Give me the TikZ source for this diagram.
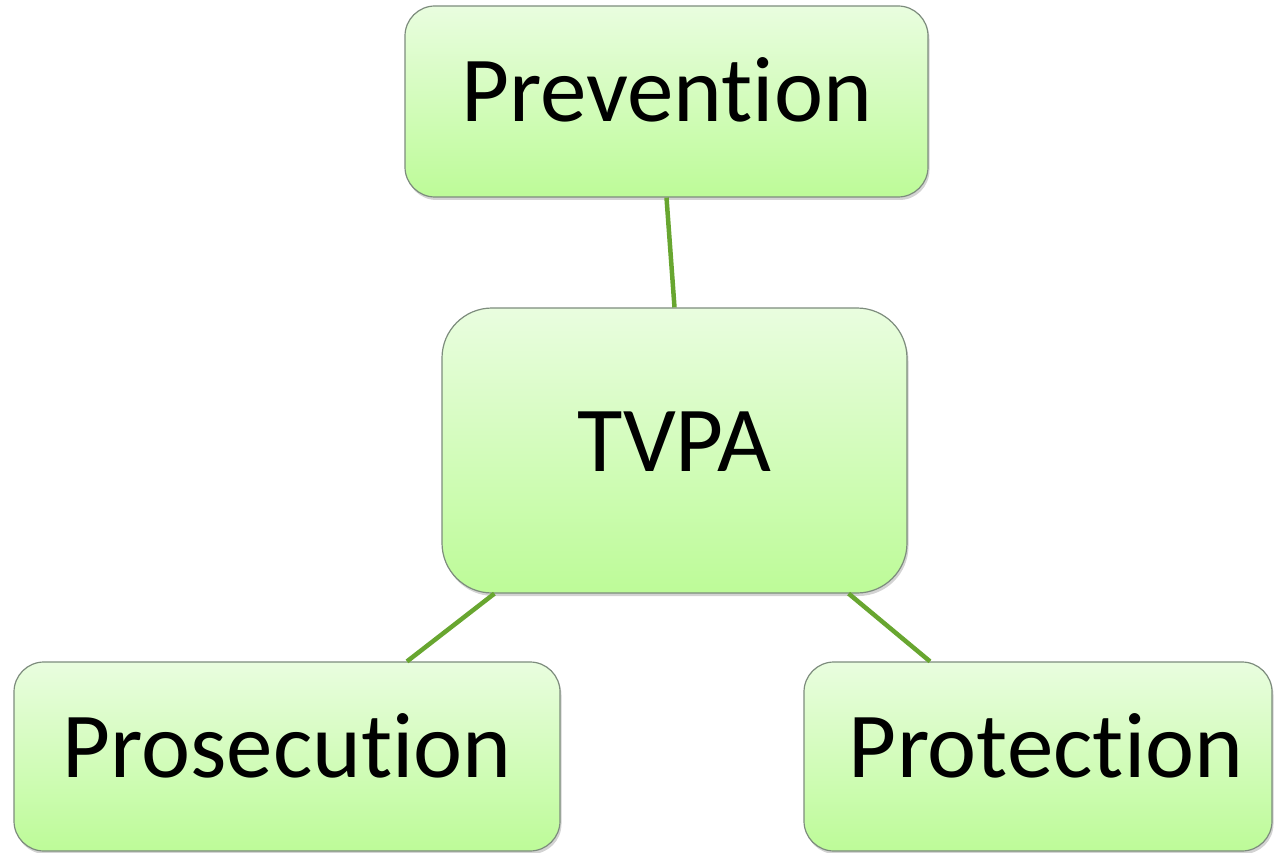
\documentclass[tikz,border=0pt]{standalone}
\usepackage{fontspec}
\setmainfont{Carlito}[Ligatures=NoCommon]
\usetikzlibrary{shadows}
\definecolor{boxtop}{RGB}{233,253,223}
\definecolor{boxbottom}{RGB}{189,251,152}
\definecolor{boxline}{RGB}{125,140,125}
\definecolor{linkgreen}{RGB}{104,166,48}

\begin{document}
\begin{tikzpicture}[x=1pt,y=-1pt,
  box/.style={draw=boxline,line width=1.2pt,rounded corners=30pt,
    top color=boxtop,bottom color=boxbottom,
    drop shadow={shadow xshift=1.5pt,shadow yshift=-3pt,opacity=0.35},
    font=\fontsize{93}{110}\selectfont,text height=60pt,text depth=19pt,
    inner sep=0pt},
  link/.style={linkgreen,line width=4.5pt}]
\useasboundingbox (0,0) rectangle (1274,853);

 \node[box,minimum width=523pt,minimum height=191pt] (prevention) at (666.5,101.5) {Prevention};
 \node[box,minimum width=465pt,minimum height=285pt,rounded corners=50pt] (tvpa) at (674.5,450.5) {TVPA};
 \node[box,minimum width=546pt,minimum height=189pt] (prosecution) at (287,756.5) {Prosecution};
 \node[box,minimum width=468pt,minimum height=189pt] (protection) at (1038,756.5) {\hspace{16pt}Protection};

 \draw[link] (prevention.south) -- (tvpa.north);
 \draw[link] ([xshift=53pt]tvpa.south west) -- ([xshift=120pt]prosecution.north);
 \draw[link] ([xshift=-59pt]tvpa.south east) -- ([xshift=-108pt]protection.north);
\end{tikzpicture}
\end{document}
